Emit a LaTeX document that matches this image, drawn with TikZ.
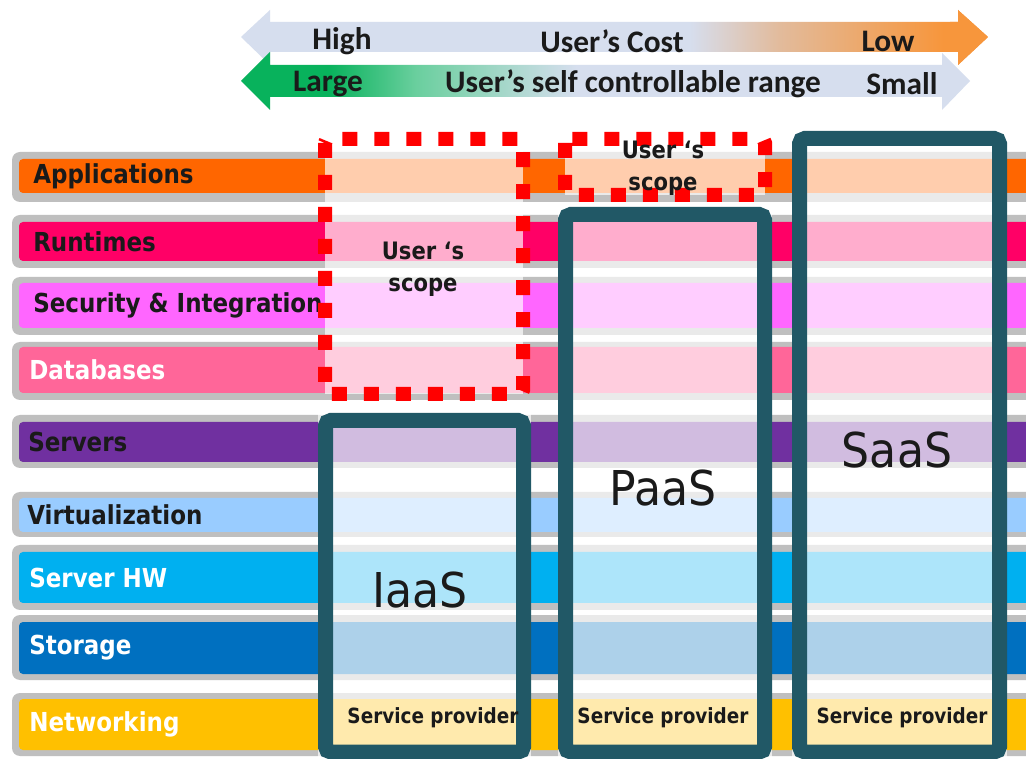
\documentclass[tikz,border=0pt]{standalone}
\usepackage{fontspec}
\setmainfont{DejaVu Sans}
\newfontfamily\barfont[FakeStretch=0.88]{DejaVu Sans}
\newfontfamily\bigfont[FakeStretch=0.92]{DejaVu Sans}
\newfontfamily\arrfont{Carlito}
\definecolor{gframe}{HTML}{BFBFBF}
\definecolor{cApp}{HTML}{FF6600}
\definecolor{cRun}{HTML}{FF0066}
\definecolor{cSec}{HTML}{FF66FF}
\definecolor{cDb}{HTML}{FF6699}
\definecolor{cSrv}{HTML}{7030A0}
\definecolor{cVirt}{HTML}{99CCFF}
\definecolor{cHw}{HTML}{00B0F0}
\definecolor{cSto}{HTML}{0070C0}
\definecolor{cNet}{HTML}{FFC000}
\definecolor{txtdark}{HTML}{1A1A1A}
\definecolor{boxteal}{HTML}{215866}
\definecolor{pale}{HTML}{D6DEEE}
\definecolor{tan}{HTML}{E2BB9C}
\definecolor{arrorange}{HTML}{F7963C}
\definecolor{arrgreen}{HTML}{08B25C}
\definecolor{lgreen}{HTML}{6ACF9E}
\definecolor{scopered}{HTML}{FF0000}
\pgfdeclarehorizontalshading{costshade}{100bp}{color(0bp)=(pale); color(55bp)=(pale); color(61bp)=(tan); color(72bp)=(arrorange); color(100bp)=(arrorange)}
\pgfdeclarehorizontalshading{rangeshade}{100bp}{color(0bp)=(arrgreen); color(31bp)=(arrgreen); color(37bp)=(lgreen); color(48bp)=(pale); color(100bp)=(pale)}
\begin{document}
\begin{tikzpicture}[x=0.75pt,y=-0.75pt,
  barlabel/.style={font=\barfont\bfseries\fontsize{19.6pt}{21pt}\selectfont, anchor=west, inner sep=0pt},
  svcbox/.style={draw=boxteal, line width=11.25pt, rounded corners=4pt},
  scopebox/.style={draw=scopered, line width=10.5pt, dash pattern=on 11.25pt off 12.75pt, line cap=butt},
  lighten/.style={fill=white, opacity=0.68},
  scopetext/.style={font=\barfont\bfseries\fontsize{18pt}{24pt}\selectfont, align=center, text=txtdark, inner sep=0pt},
  bigtext/.style={font=\bigfont\fontsize{36pt}{40pt}\selectfont, text=txtdark, inner sep=0pt},
  sptext/.style={font=\barfont\bfseries\fontsize{15.7pt}{17pt}\selectfont, text=txtdark, inner sep=0pt},
  arrtext/.style={font=\arrfont\bfseries\fontsize{23.5pt}{25pt}\selectfont, text=txtdark, inner sep=0pt}]
\useasboundingbox (0,0) rectangle (1026,759);
\fill[white] (0,0) rectangle (1026,759);

% top arrows
\def\arrowone{(241,37) -- (270,10) -- (270,22) -- (958,22) -- (958,10) -- (988,37) -- (958,65) -- (958,52) -- (270,52) -- (270,65) -- cycle}
\shade[shading=costshade] \arrowone;
\shade[shading=rangeshade]
  (241,81) -- (270,52) -- (270,65) -- (942,65) -- (942,53) -- (970,81) -- (942,110) -- (942,97) -- (270,97) -- (270,110) -- cycle;
\begin{scope}
  \clip (950,0) rectangle (1000,70);
  \shade[shading=costshade] \arrowone;
\end{scope}
\node[arrtext] (high) at (342,41) {High};
\node[arrtext] (cost) at (612,41) {User’s Cost};
\node[arrtext] (low) at (888,41) {Low};
\node[arrtext] (large) at (328,84) {Large};
\node[arrtext] (range) at (633,84) {User’s self controllable range};
\node[arrtext] (small) at (902,84) {Small};

% layer bars
\foreach \i/\ot/\ob/\it/\ib/\c/\tc/\lx/\lab in {
  1/152/202/159/193/cApp/txtdark/33/Applications,
  2/215/268/222/261/cRun/txtdark/33/Runtimes,
  3/277/335/283/328/cSec/txtdark/33/Security \& Integration,
  4/342/400/347/393/cDb/white/29/Databases,
  5/415/468/422/462/cSrv/txtdark/28/Servers,
  6/492/537/498/532/cVirt/txtdark/27/Virtualization,
  7/545/610/552/603/cHw/white/29/Server HW,
  8/615/680/622/674/cSto/white/29/Storage,
  9/693/756/699/750/cNet/white/29/Networking}{
  \fill[gframe, rounded corners=6pt] (12,\ot) rectangle (1045,\ob);
  \fill[\c, rounded corners=3pt] (19,\it) rectangle (1038,\ib);
  \node[barlabel, text=\tc] (lbl\i) at (\lx,{(\it+\ib)/2}) {\lab};
}

% lightened regions
\fill[lighten] (325,139) rectangle (523,394);
\fill[lighten] (565,139) rectangle (765,195);
\fill[lighten] (318,413) rectangle (531,770);
\fill[lighten] (558,207) rectangle (772,770);
\fill[lighten] (792,131) rectangle (1007,770);

% service boxes
\draw[svcbox] (325.5,420.5) rectangle (523.5,752);
\draw[svcbox] (565.5,214.5) rectangle (764.5,752);
\draw[svcbox] (799.5,138.5) rectangle (999.5,752);

% user's scope boxes
\draw[scopebox, rounded corners=3pt] (325,139) rectangle (523,394);
\draw[scopebox, rounded corners=3pt] (565,139) rectangle (765,195);

% texts
\node[scopetext] (scope1) at (423,269) {User ‘s\\scope};
\node[scopetext] (scope2) at (663,168) {User ‘s\\scope};
\node[bigtext] (iaas) at (420,590) {IaaS};
\node[bigtext] (paas) at (663,488) {PaaS};
\node[bigtext] (saas) at (897,450) {SaaS};
\node[sptext] (sp1) at (433,718) {Service provider};
\node[sptext] (sp2) at (663,718) {Service provider};
\node[sptext] (sp3) at (902,718) {Service provider};
\end{tikzpicture}
\end{document}
